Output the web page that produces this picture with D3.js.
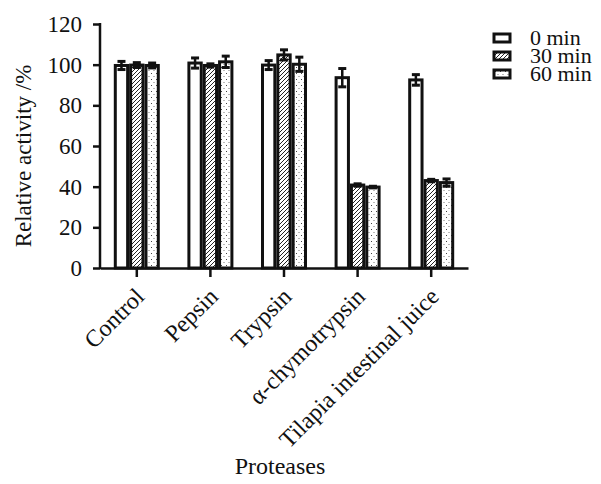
<!DOCTYPE html>
<html>
<head>
<meta charset="utf-8">
<script src="https://cdn.jsdelivr.net/npm/d3@7"></script>
<style>
body { margin: 0; background: #fff; }
text { font-family: "Liberation Serif", "Times New Roman", serif; fill: #111; }
</style>
</head>
<body>
<div class="d3"></div>
<script>
// data
var categories = ["Control", "Pepsin", "Trypsin", "\u03b1-chymotrypsin", "Tilapia intestinal juice"];
var series = ["0 min", "30 min", "60 min"];
var values0 = [99.6, 100.8, 99.8, 93.6, 92.5];
var values30 = [99.8, 99.6, 104.8, 40.8, 43.0];
var values60 = [99.6, 101.4, 100.2, 39.8, 42.0];
var err0 = [2.0, 2.5, 2.2, 4.5, 2.6];
var err30 = [1.2, 0.8, 2.5, 0.6, 0.6];
var err60 = [1.2, 2.8, 3.5, 0.4, 1.8];
var yTicks = [0, 20, 40, 60, 80, 100, 120];

var w = 601, h = 484;
var mLeft = 100, mRight = 468, mTop = 24, mBottom = 268;
var serif = '"Liberation Serif", "Times New Roman", serif';

var dataset = [];
categories.forEach((c, i) => {
	dataset.push({cat: c, s: "0 min", v: values0[i], e: err0[i]});
	dataset.push({cat: c, s: "30 min", v: values30[i], e: err30[i]});
	dataset.push({cat: c, s: "60 min", v: values60[i], e: err60[i]});
});

var svg = d3.select(".d3").append("svg")
	.attr("width", w)
	.attr("height", h);

var defs = svg.append("defs");
// diagonal hatch for 30 min
var hatch = defs.append("pattern")
	.attr("id", "hatch")
	.attr("patternUnits", "userSpaceOnUse")
	.attr("width", 4).attr("height", 4);
hatch.append("rect").attr("width", 4).attr("height", 4).attr("fill", "#fff");
hatch.append("path")
	.attr("d", "M-1,1 l2,-2 M0,4 l4,-4 M3,5 l2,-2")
	.attr("stroke", "#222").attr("stroke-width", 1);
// dots for 60 min
var dots = defs.append("pattern")
	.attr("id", "dots")
	.attr("patternUnits", "userSpaceOnUse")
	.attr("width", 5).attr("height", 6);
dots.append("rect").attr("width", 5).attr("height", 6).attr("fill", "#fff");
dots.append("rect").attr("x", 1).attr("y", 1).attr("width", 1).attr("height", 1).attr("fill", "#444");
dots.append("rect").attr("x", 3.5).attr("y", 4).attr("width", 1).attr("height", 1).attr("fill", "#777");

var fills = {"0 min": "#fff", "30 min": "url(#hatch)", "60 min": "url(#dots)"};

var x0 = d3.scaleBand().domain(categories).range([mLeft, mRight]);
var groupW = 46;
var x1 = d3.scaleBand().domain(series).range([0, groupW]);
var yScale = d3.scaleLinear().domain([0, 120]).range([mBottom, mTop]);

var canvas = svg.append("g");

// bars
canvas.selectAll("rect.bar")
	.data(dataset)
	.enter().append("rect")
	.attr("class", "bar")
	.attr("x", d => x0(d.cat) + (x0.bandwidth() - groupW) / 2 + x1(d.s) + 1.5)
	.attr("y", d => yScale(d.v))
	.attr("width", x1.bandwidth() - 3)
	.attr("height", d => yScale(0) - yScale(d.v))
	.attr("fill", d => fills[d.s])
	.attr("stroke", "#111")
	.attr("stroke-width", 3);

// error bars
var eb = canvas.selectAll("g.err")
	.data(dataset)
	.enter().append("g")
	.attr("class", "err")
	.attr("transform", d => "translate(" + (x0(d.cat) + (x0.bandwidth() - groupW) / 2 + x1(d.s) + x1.bandwidth() / 2) + ",0)");
eb.append("line")
	.attr("y1", d => yScale(d.v + d.e)).attr("y2", d => yScale(d.v - d.e))
	.attr("stroke", "#111").attr("stroke-width", 2.5);
eb.append("line")
	.attr("x1", -4).attr("x2", 4)
	.attr("y1", d => yScale(d.v + d.e)).attr("y2", d => yScale(d.v + d.e))
	.attr("stroke", "#111").attr("stroke-width", 3);
eb.append("line")
	.attr("x1", -4).attr("x2", 4)
	.attr("y1", d => yScale(d.v - d.e)).attr("y2", d => yScale(d.v - d.e))
	.attr("stroke", "#111").attr("stroke-width", 3);

// y axis
var yAxis = d3.axisLeft(yScale).tickValues(yTicks).tickSize(7).tickPadding(11).tickSizeOuter(0);
var ya = svg.append("g")
	.attr("transform", "translate(" + mLeft + ",0)")
	.call(yAxis)
	.attr("font-family", null);
ya.select(".domain").attr("stroke", "#111").attr("stroke-width", 2.5).attr("d", "M0," + (mBottom + 1) + "V" + (mTop - 1));
ya.selectAll(".tick line").attr("stroke", "#111").attr("stroke-width", 2.5);
ya.selectAll(".tick text")
	.style("font-family", serif)
	.style("font-size", "23px")
	.attr("fill", "#111");

// x axis
var xAxis = d3.axisBottom(x0).tickSize(9).tickSizeOuter(0).tickFormat("");
var xa = svg.append("g")
	.attr("transform", "translate(0," + mBottom + ")")
	.call(xAxis);
xa.select(".domain").attr("stroke", "#111").attr("stroke-width", 2.5);
xa.selectAll(".tick line").attr("stroke", "#111").attr("stroke-width", 2.5);

// rotated category labels
svg.selectAll("text.cat")
	.data(categories)
	.enter().append("text")
	.attr("class", "cat")
	.attr("text-anchor", "end")
	.style("font-family", serif)
	.style("font-size", "24px")
	.attr("transform", d => "translate(" + (x0(d) + x0.bandwidth() / 2 + 9) + "," + (mBottom + 30) + ") rotate(-45)")
	.text(d => d);

// axis titles
svg.append("text")
	.attr("text-anchor", "middle")
	.style("font-family", serif)
	.style("font-size", "23px")
	.attr("transform", "translate(31," + ((mTop + mBottom) / 2 + 10) + ") rotate(-90)")
	.text("Relative activity /%");

svg.append("text")
	.attr("text-anchor", "middle")
	.style("font-family", serif)
	.style("font-size", "24px")
	.attr("x", 280)
	.attr("y", 474)
	.text("Proteases");

// legend
var legend = svg.selectAll("g.legend")
	.data(series)
	.enter().append("g")
	.attr("class", "legend")
	.attr("transform", (d, i) => "translate(494," + (34 + i * 18) + ")");
legend.append("rect")
	.attr("width", 16).attr("height", 8)
	.attr("fill", d => fills[d])
	.attr("stroke", "#111").attr("stroke-width", 3);
legend.append("text")
	.attr("x", 36).attr("y", 11)
	.style("font-family", serif)
	.style("font-size", "22px")
	.text(d => d);
</script>
</body>
</html>
